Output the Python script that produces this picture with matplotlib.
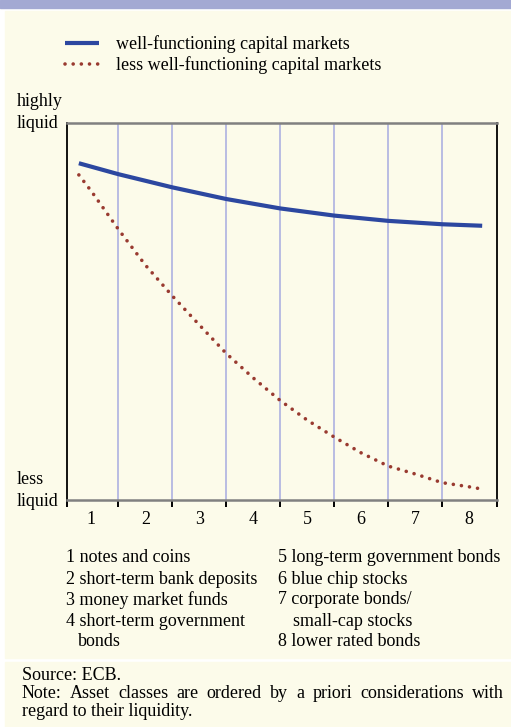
import matplotlib
matplotlib.use("Agg")
import matplotlib.pyplot as plt
from matplotlib.patches import Rectangle

# asset classes on the x axis
categories = ["1", "2", "3", "4", "5", "6", "7", "8"]
category_notes_left = ["1 notes and coins", "2 short-term bank deposits",
                       "3 money market funds", "4 short-term government", "bonds"]
category_notes_right = ["5 long-term government bonds", "6 blue chip stocks",
                        "7 corporate bonds/", "small-cap stocks", "8 lower rated bonds"]

# liquidity (0 = less liquid, 100 = highly liquid)
x_well = [0.77, 1.5, 2.5, 3.5, 4.5, 5.5, 6.5, 7.5, 8.24]
well = [89.4, 86.5, 83.0, 79.9, 77.4, 75.5, 74.1, 73.2, 72.8]
x_less = [0.77, 1.0, 1.5, 2.0, 2.5, 3.0, 3.5, 4.0, 4.5, 5.0, 5.5, 6.0, 6.5,
          7.0, 7.5, 8.0, 8.28]
less = [86.3, 82.0, 71.9, 62.4, 54.2, 46.5, 38.9, 32.4, 26.4, 21.2, 16.7,
        12.5, 9.0, 6.9, 4.6, 3.5, 2.8]

source_text = "Source: ECB."
note_line1 = "Note: Asset classes are ordered by a priori considerations with"
note_line2 = "regard to their liquidity."

BLUE = "#2c47a0"
RED = "#993a30"
GRID = "#a6abe0"
BEIGE = "#fcfbea"
BAND = "#a3a9d3"
FS = 13

plt.rcParams["font.family"] = ["Liberation Serif", "DejaVu Serif"]

W, H = 511, 727
fig = plt.figure(figsize=(W / 100, H / 100), dpi=100, facecolor="white")


def fx(x):
    return x / W


def fy(y):
    # pixel row (from top) -> figure fraction
    return 1 - y / H


def label(x, y, s):
    # serif text centred a touch low, as in the printed original
    return fig.text(fx(x), fy(y + 2), s, fontsize=FS, va="center", ha="left")


# page background blocks
fig.patches.append(Rectangle((0, fy(8)), 1, 8 / H, transform=fig.transFigure,
                             color=BAND, zorder=-10))
fig.patches.append(Rectangle((fx(5), fy(658)), 1, (658 - 11) / H,
                             transform=fig.transFigure, color=BEIGE, zorder=-10))
fig.patches.append(Rectangle((fx(5), 0), 1, (727 - 662) / H,
                             transform=fig.transFigure, color=BEIGE, zorder=-10))

ax = fig.add_axes([fx(66.7), fy(500), fx(497.3) - fx(66.7), fy(123.3) - fy(500)])
ax.set_facecolor("none")
ax.set_xlim(0.545, 8.52)
ax.set_ylim(0, 100)

# category boundaries as gridlines
bounds = [i + 0.5 for i in range(1, 8)]
for b in bounds:
    ax.axvline(b, color=GRID, lw=1.1, zorder=1)

ax.plot(x_well, well, color=BLUE, lw=3.0, solid_capstyle="butt", zorder=3,
        label="well-functioning capital markets")
ax.plot(x_less, less, color=RED, lw=2.6, linestyle=(0, (0.01, 2.25)),
        dash_capstyle="round", zorder=3, label="less well-functioning capital markets")

for side in ["left", "right"]:
    ax.spines[side].set_color("black")
    ax.spines[side].set_linewidth(1.3)
for side in ["top", "bottom"]:
    ax.spines[side].set_color("#808080")
    ax.spines[side].set_linewidth(1.8)

ax.set_yticks([])
ax.set_xticks(range(1, 9))
ax.set_xticklabels(categories, fontsize=FS)
ax.tick_params(axis="x", which="major", length=0, pad=8)
ax.set_xticks([0.545] + bounds + [8.52], minor=True)
ax.tick_params(axis="x", which="minor", length=5, width=1.4, color="black",
               direction="out")

# y-axis end labels
label(17, 100, "highly")
label(17, 122, "liquid")
label(17, 478, "less")
label(17, 499, "liquid")

ax.legend(loc="upper left", bbox_to_anchor=(fx(65), fy(35)),
          bbox_transform=fig.transFigure, frameon=False, fontsize=FS,
          handlelength=1.9, handletextpad=0.9, labelspacing=0.2,
          borderpad=0, borderaxespad=0)

# category key below the chart
rows_y = [555, 577, 598, 619, 640]
for i, (lt, rt) in enumerate(zip(category_notes_left, category_notes_right)):
    lx = 78 if i == 4 else 65.7
    rx = 292.7 if i == 3 else 278
    label(lx, rows_y[i], lt)
    label(rx, rows_y[i], rt)

# source and note, first note line justified
label(21.7, 673, source_text)
renderer = fig.canvas.get_renderer()
words = note_line1.split()
word_texts = [label(0, 692, w) for w in words]
widths = [t.get_window_extent(renderer).width for t in word_texts]
left_px, right_px = 21.7, 504
gap = (right_px - left_px - sum(widths)) / (len(words) - 1)
pos = left_px
for t, w in zip(word_texts, widths):
    t.set_x(fx(pos))
    pos += w + gap
label(21.7, 710, note_line2)

fig.savefig("out.png", dpi=100, facecolor="white")
